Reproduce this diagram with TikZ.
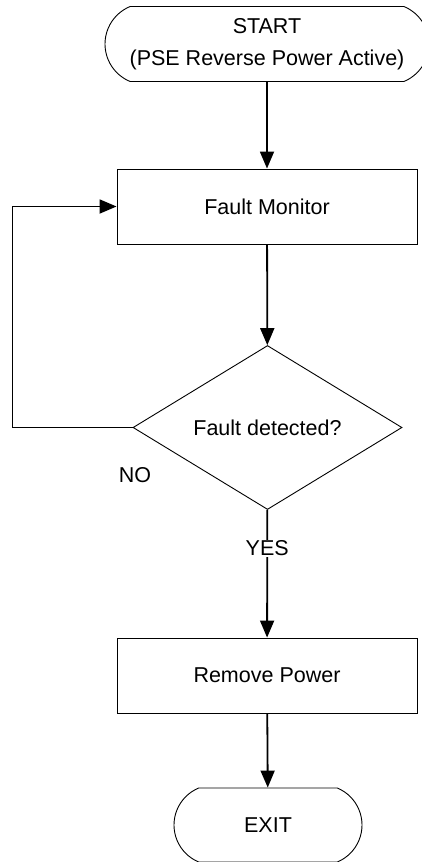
\documentclass[tikz,border=0pt]{standalone}
\usepackage{fontspec}
\setmainfont{Liberation Sans}
\usetikzlibrary{arrows.meta,positioning,shapes.geometric,shapes.misc}

\begin{document}
\begin{tikzpicture}[x=1pt,y=-1pt,
  font=\fontsize{21.5}{32}\selectfont,
  terminal/.style={draw,line width=0.9pt,rounded rectangle,
    rounded rectangle arc length=135,minimum height=75pt,inner sep=0pt,align=center},
  process/.style={draw,line width=0.9pt,rectangle,
    minimum width=300pt,minimum height=75pt,inner sep=0pt},
  decision/.style={draw,line width=0.9pt,diamond,
    minimum width=269pt,minimum height=149pt,inner sep=0pt},
  flow/.style={line width=1.8pt,-{Triangle[length=17pt,width=14pt]}}]
  % page frame
  \useasboundingbox (0,0) rectangle (421,862);
  % steps
  \node[terminal,minimum width=324pt] (start) at (267,44)
    {START\\(PSE Reverse Power Active)};
  \node[process] (monitor) at (267,206.5) {Fault Monitor};
  \node[decision] (check) at (267.5,427.5) {Fault detected?};
  \node[process] (power) at (267,675.5) {Remove Power};
  \node[terminal,minimum width=188pt,minimum height=74pt] (exit) at (268,825) {EXIT};
  % connectors
  \draw[flow] (start) -- (monitor);
  \draw[flow] (monitor) -- (check);
  \draw[flow] (check.west) -- ++(-120,0) |- (monitor.west);
  \draw[flow] (check) -- node[pos=0.3,fill=white,inner sep=1pt] (yes) {YES} (power);
  \draw[flow] (power) -- (exit);
  % branch label
  \node (no) at (135,475) {NO};
\end{tikzpicture}
\end{document}
